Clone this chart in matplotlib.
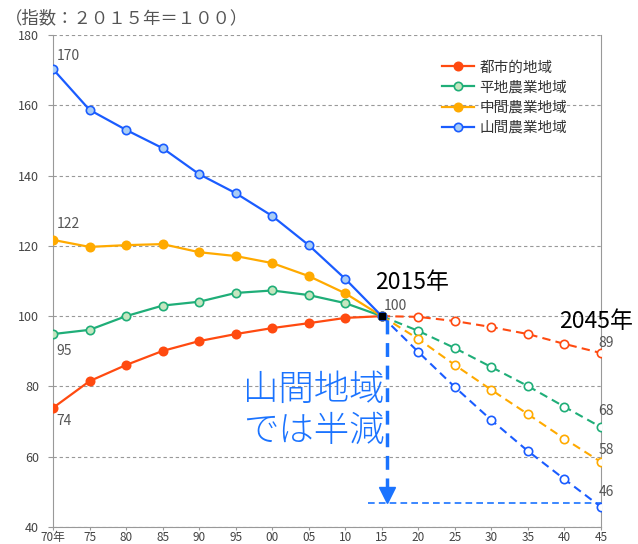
import matplotlib
matplotlib.use("Agg")
import matplotlib.pyplot as plt

plt.rcParams['font.family'] = ['Noto Sans CJK JP', 'DejaVu Sans']

years = ['70年', '75', '80', '85', '90', '95', '00', '05', '10', '15',
         '20', '25', '30', '35', '40', '45']
series_names = ['都市的地域', '平地農業地域', '中間農業地域', '山間農業地域']
urban = [73.9, 81.5, 86.1, 90.1, 92.9, 94.9, 96.6, 98.0, 99.5, 100,
         99.8, 98.6, 96.9, 94.9, 92.1, 89.5]
flat = [94.9, 96.1, 100.0, 103.0, 104.1, 106.6, 107.3, 106.0, 103.7, 100,
        95.8, 90.9, 85.5, 80.1, 74.2, 68.4]
middle = [121.7, 119.7, 120.2, 120.5, 118.2, 117.1, 115.1, 111.4, 106.5, 100,
          93.5, 86.1, 79.0, 72.1, 65.1, 58.5]
mountain = [170.3, 158.7, 153.0, 147.8, 140.4, 135.0, 128.5, 120.2, 110.6, 100,
            89.8, 79.8, 70.4, 61.6, 53.6, 45.7]
yticks = [40, 60, 80, 100, 120, 140, 160, 180]

colors = ['#ff4a10', '#1fae78', '#ffaa00', '#1a5cff']
fills = ['#ff4a10', '#c5e6c0', '#ffaa00', '#a9cdf5']
data = [urban, flat, middle, mountain]

fig = plt.figure(figsize=(6.38, 5.44), dpi=100)
ax = fig.add_axes([53/638, 1-527/544, (601-53)/638, (527-35)/544])

x = list(range(len(years)))
split = 9
for vals, c, f, name in zip(data, colors, fills, series_names):
    ax.plot(x[:split+1], vals[:split+1], color=c, lw=1.6, marker='o', ms=6,
            mfc=f, mec=c, mew=1.2, label=name, zorder=3)
    ax.plot(x[split:], vals[split:], color=c, lw=1.5, ls=(0, (4, 2.5)),
            marker='o', ms=6, mfc='white', mec=c, mew=1.2,
            markevery=list(range(1, len(x)-split)), zorder=3)

ax.plot([x[split]], [100], marker='s', ms=4, color='black', zorder=5)

ax.set_xlim(0, 15)
ax.set_ylim(40, 180)
ax.set_yticks(yticks)
ax.set_xticks(x)
ax.set_xticklabels(years)
ax.grid(axis='y', color='#999999', ls=(0, (3, 2.5)), lw=0.8)
for s in ['left', 'bottom', 'right']:
    ax.spines[s].set_color('#999999')
ax.spines['top'].set_visible(False)
ax.tick_params(axis='both', colors='#999999', labelcolor='#444444', labelsize=9,
               direction='out')
ax.tick_params(axis='y', length=3.5, pad=6.5)
ax.tick_params(axis='x', length=2.5, pad=0.5)
for lbl in ax.get_xticklabels():
    lbl.set_fontsize(8.5)

leg = ax.legend(loc='upper left', bbox_to_anchor=(0.685, 0.975), frameon=False,
                fontsize=10.5, handlelength=2.2, labelspacing=0.42, handletextpad=0.4)
for t in leg.get_texts():
    t.set_color('#333333')

gray = '#555555'
ax.text(0.1, 174, '170', color=gray, fontsize=10, va='center')
ax.text(0.1, 126.2, '122', color=gray, fontsize=10, va='center')
ax.text(0.1, 90.2, '95', color=gray, fontsize=10, va='center')
ax.text(0.1, 70.1, '74', color=gray, fontsize=10, va='center')
ax.text(9.05, 103, '100', color=gray, fontsize=10, va='center')
for yv, lbl in [(92.4, '89'), (72.9, '68'), (62.0, '58'), (50.0, '46')]:
    ax.text(15.15, yv, lbl, color=gray, fontsize=10, ha='center', va='center')

ax.text(8.82, 107.6, '2015年', color='black', fontsize=16.5, va='baseline')
ax.text(13.84, 96.6, '2045年', color='black', fontsize=16.5, va='baseline')
ax.text(9.08, 73.3, '山間地域\nでは半減', color='#1a73ff', fontsize=25.5,
        ha='right', va='center', linespacing=1.1, fontweight='light')

blue = '#1a73ff'
ax.plot([9.15, 9.15], [99, 50], color=blue, lw=2.5, ls=(0, (4, 2.5)), zorder=4)
ax.plot([9.15], [49.1], marker='v', ms=11.5, color=blue, zorder=4, lw=0)
ax.plot([8.63, 15], [46.8, 46.8], color=blue, lw=1.2, ls=(0, (4, 2.5)), zorder=2)

fig.text(5/638, 1-18/544, '（指数：２０１５年＝１００）', color='#555555',
         fontsize=12.5, va='center')

fig.savefig('out.png', dpi=100)
